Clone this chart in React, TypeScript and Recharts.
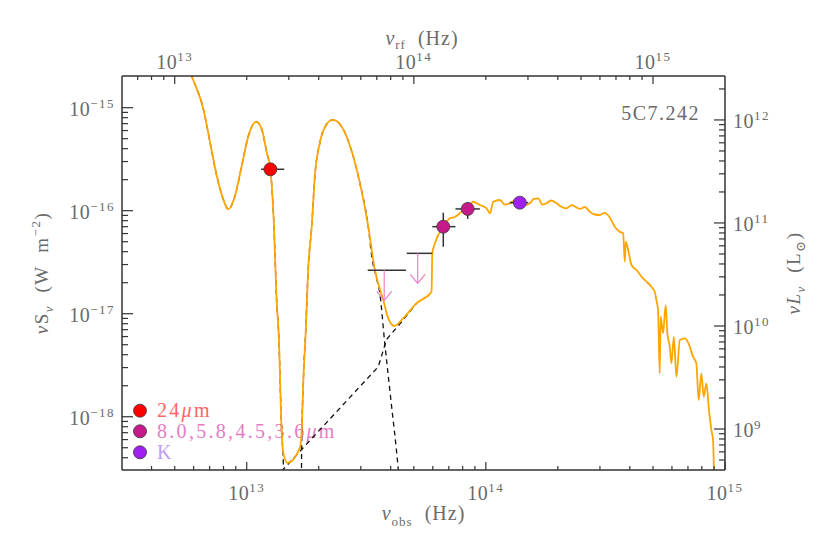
import React from "react";
import { ComposedChart, Line, Scatter, XAxis, YAxis, ErrorBar } from "recharts";

const SERIF = "'Liberation Serif', 'DejaVu Serif', serif";
const INK = "#6a6a6a";
const FRAME = "#333333";
const ORANGE = "#ffa500";
const PINK = "#ee7fc6";

// every value below is log10: nu_obs in Hz, nuS_nu in W m^-2
// total model (orange)
const modelLogNu = [
  12.742, 12.77, 12.819, 12.847, 12.875, 12.902, 12.923, 12.951, 12.979, 13.007,
  13.039, 13.063, 13.084, 13.099, 13.114, 13.125, 13.134, 13.146, 13.153, 13.171,
  13.223, 13.23, 13.237, 13.247, 13.257, 13.272, 13.285, 13.306, 13.334, 13.359,
  13.39, 13.432, 13.473, 13.508, 13.536, 13.571, 13.592, 13.617, 13.654, 13.71,
  13.773, 13.776, 13.787, 13.822, 13.85, 13.87, 13.891, 13.904, 13.924, 13.947,
  13.975, 14.003, 14.017, 14.031, 14.059, 14.079, 14.1, 14.121, 14.142, 14.163,
  14.184, 14.201, 14.219, 14.236, 14.254, 14.272, 14.296, 14.313, 14.337, 14.359,
  14.393, 14.414, 14.435, 14.455, 14.476, 14.497, 14.518, 14.539, 14.56, 14.574,
  14.581, 14.585, 14.595, 14.609, 14.63, 14.651, 14.672, 14.692, 14.706, 14.713,
  14.72, 14.727, 14.731, 14.741, 14.752, 14.759, 14.769, 14.776, 14.786, 14.797,
  14.811, 14.832, 14.853, 14.866, 14.88, 14.89, 14.901, 14.911, 14.922, 14.933,
  14.943, 14.95, 14.954,
];
const modelLogFlux = [
  -14.508, -14.692, -15.016, -15.34, -15.663, -15.889, -15.986, -15.857, -15.566, -15.275,
  -15.136, -15.21, -15.437, -15.598, -16.149, -16.867, -17.207, -18.129, -18.355, -18.447,
  -18.297, -18.129, -17.644, -17.158, -16.576, -16.149, -15.663, -15.34, -15.161, -15.119,
  -15.161, -15.372, -15.728, -16.149, -16.576, -16.867, -17.045, -17.119, -17.045, -16.899,
  -16.786, -16.414, -16.317, -16.155, -16.074, -16.061, -16.025, -15.998, -15.983, -15.913,
  -15.945, -15.977, -16.025, -15.913, -15.896, -15.94, -15.928, -15.901, -15.922, -15.945,
  -15.928, -15.886, -15.88, -15.94, -15.928, -15.901, -15.928, -15.959, -15.977, -15.945,
  -15.983, -15.964, -16.01, -16.037, -16.042, -16.022, -16.066, -16.155, -16.204, -16.219,
  -16.495, -16.301, -16.382, -16.527, -16.576, -16.641, -16.689, -16.738, -16.786, -16.867,
  -16.964, -17.579, -17.029, -17.19, -16.916, -17.19, -17.32, -17.482, -17.223, -17.612,
  -17.255, -17.239, -17.32, -17.417, -17.482, -17.838, -17.579, -17.806, -17.676, -17.935,
  -18.129, -18.226, -18.566,
];

// hot dust component (dashed)
const dustLogNu = [
  12.742, 12.77, 12.819, 12.847, 12.875, 12.902, 12.923, 12.951, 12.979, 13.007,
  13.039, 13.063, 13.084, 13.099, 13.114, 13.125, 13.134, 13.146, 13.152, 13.156,
  13.228, 13.23, 13.237, 13.247, 13.257, 13.272, 13.285, 13.306, 13.334, 13.359,
  13.39, 13.432, 13.473, 13.508, 13.524, 13.543, 13.557, 13.576, 13.603, 13.634, 13.641,
];
const dustLogFlux = [
  -14.508, -14.692, -15.016, -15.34, -15.663, -15.889, -15.986, -15.857, -15.566, -15.275,
  -15.136, -15.21, -15.437, -15.598, -16.149, -16.867, -17.207, -18.129, -18.372, -18.615,
  -18.712, -18.275, -17.644, -17.158, -16.576, -16.149, -15.663, -15.34, -15.161, -15.119,
  -15.161, -15.372, -15.728, -16.149, -16.462, -16.656, -16.809, -17.255, -17.838, -18.518, -18.712,
];

// stellar component (dashed)
const starLogNu = [13.139, 13.15, 13.348, 13.55, 13.585, 13.648, 13.71];
const starLogFlux = [-18.615, -18.518, -18.021, -17.515, -17.249, -17.078, -16.899];

// photometry
const mipsLogNu = [13.099];
const mipsLogFlux = [-15.598];
const mipsNuLo = [13.06];
const mipsNuHi = [13.157];

const iracLogNu = [13.822, 13.924];
const iracLogFlux = [-16.155, -15.983];
const iracNuLo = [13.776, 13.873];
const iracNuHi = [13.873, 13.975];
const iracFluxLo = [-16.35, -16.08];
const iracFluxHi = [-16.019, -15.918];

const kLogNu = [14.142];
const kLogFlux = [-15.922];
const kNuLo = [14.1];
const kNuHi = [14.177];

// 8.0 and 5.8 micron upper limits
const limLogNu = [13.575, 13.715];
const limLogFlux = [-16.579, -16.414];
const limNuLo = [13.506, 13.669];
const limNuHi = [13.666, 13.776];

const obsDomain = [3.01e12, 1e15];
const restDomain = [6.02e12, 2e15];
const fluxDomain = [3.04e-19, 2.03e-15];
const lumDomain = [4.0e8, 2.67e12];

const obsTicks = [
  4e12, 5e12, 6e12, 7e12, 8e12, 9e12, 1e13, 2e13, 3e13, 4e13, 5e13, 6e13, 7e13, 8e13, 9e13,
  1e14, 2e14, 3e14, 4e14, 5e14, 6e14, 7e14, 8e14, 9e14, 1e15,
];
const restTicks = [
  7e12, 8e12, 9e12, 1e13, 2e13, 3e13, 4e13, 5e13, 6e13, 7e13, 8e13, 9e13,
  1e14, 2e14, 3e14, 4e14, 5e14, 6e14, 7e14, 8e14, 9e14, 1e15,
];
const fluxTicks = [
  4e-19, 5e-19, 6e-19, 7e-19, 8e-19, 9e-19, 1e-18, 2e-18, 3e-18, 4e-18, 5e-18, 6e-18, 7e-18, 8e-18, 9e-18,
  1e-17, 2e-17, 3e-17, 4e-17, 5e-17, 6e-17, 7e-17, 8e-17, 9e-17,
  1e-16, 2e-16, 3e-16, 4e-16, 5e-16, 6e-16, 7e-16, 8e-16, 9e-16, 1e-15,
];
const lumTicks = [
  5e8, 6e8, 7e8, 8e8, 9e8, 1e9, 2e9, 3e9, 4e9, 5e9, 6e9, 7e9, 8e9, 9e9,
  1e10, 2e10, 3e10, 4e10, 5e10, 6e10, 7e10, 8e10, 9e10,
  1e11, 2e11, 3e11, 4e11, 5e11, 6e11, 7e11, 8e11, 9e11, 1e12, 2e12,
];

const curve = (lx: number[], ly: number[]) =>
  lx.map((v, i) => ({ x: 10 ** v, y: 10 ** ly[i] }));

const photometry = (
  lx: number[],
  ly: number[],
  xlo: number[],
  xhi: number[],
  ylo?: number[],
  yhi?: number[]
) =>
  lx.map((v, i) => {
    const x = 10 ** v;
    const y = 10 ** ly[i];
    return {
      x,
      y,
      ex: [x - 10 ** xlo[i], 10 ** xhi[i] - x],
      ey: ylo && yhi ? [y - 10 ** ylo[i], 10 ** yhi[i] - y] : [0, 0],
    };
  });

const modelData = curve(modelLogNu, modelLogFlux);
const dustData = curve(dustLogNu, dustLogFlux);
const starData = curve(starLogNu, starLogFlux);
const mipsData = photometry(mipsLogNu, mipsLogFlux, mipsNuLo, mipsNuHi);
const iracData = photometry(iracLogNu, iracLogFlux, iracNuLo, iracNuHi, iracFluxLo, iracFluxHi);
const kData = photometry(kLogNu, kLogFlux, kNuLo, kNuHi);
const limData = photometry(limLogNu, limLogFlux, limNuLo, limNuHi);

function LogTick(props: any) {
  const { x, y, payload, side } = props;
  const lg = Math.log10(payload.value);
  const e = Math.round(lg);
  const major = Math.abs(lg - e) < 1e-6;
  const vertical = side === "left" || side === "right";
  const len = vertical ? (major ? 11 : 6) : major ? 8 : 4;
  let x2 = x;
  let y2 = y;
  if (side === "left") x2 = x + len;
  if (side === "right") x2 = x - len;
  if (side === "bottom") y2 = y - len;
  if (side === "top") y2 = y + len;

  let label = null;
  if (major) {
    const exp = e < 0 ? `\u2212${-e}` : `${e}`;
    let tx = x;
    let ty = y;
    let anchor = "middle";
    if (side === "left") {
      tx = x - 7;
      ty = y + 8;
      anchor = "end";
    } else if (side === "right") {
      tx = x + 8;
      ty = y + 8;
      anchor = "start";
    } else if (side === "bottom") {
      ty = y + 30;
    } else {
      ty = y - 7;
    }
    label = (
      <text x={tx} y={ty} textAnchor={anchor} fill={INK} fontFamily={SERIF}>
        <tspan fontSize={20} letterSpacing={0.5}>10</tspan>
        <tspan fontSize={13} dy={-8} letterSpacing={1.5}>{exp}</tspan>
      </text>
    );
  }
  return (
    <g>
      <line x1={x} y1={y} x2={x2} y2={y2} stroke={FRAME} strokeWidth={1.2} />
      {label}
    </g>
  );
}

const dot = (fill: string) => (p: any) =>
  <circle cx={p.cx} cy={p.cy} r={6.5} fill={fill} stroke="#3a3a3a" strokeWidth={0.8} />;

const arrow = (p: any) => (
  <g stroke={PINK} strokeWidth={1.2} fill="none">
    <line x1={p.cx} y1={p.cy} x2={p.cx} y2={p.cy + 30} />
    <polyline points={`${p.cx - 7.5},${p.cy + 21} ${p.cx},${p.cy + 30} ${p.cx + 7.5},${p.cy + 21}`} />
  </g>
);

const axisLine = { stroke: FRAME, strokeWidth: 1.5 };

export default function App() {
  return (
    <div style={{ width: 822, height: 548, background: "#fff" }}>
      <style>{"body{margin:0}"}</style>
      <ComposedChart width={822} height={548} margin={{ top: 0, right: 0, bottom: 0, left: 0 }}>
        <XAxis
          xAxisId="obs"
          dataKey="x"
          type="number"
          scale="log"
          domain={obsDomain}
          allowDataOverflow
          ticks={obsTicks}
          interval={0}
          height={78}
          tickSize={0}
          tickMargin={0}
          tickLine={false}
          axisLine={axisLine}
          tick={(p: any) => <LogTick {...p} side="bottom" />}
        />
        <XAxis
          xAxisId="rest"
          dataKey="x"
          orientation="top"
          type="number"
          scale="log"
          domain={restDomain}
          allowDataOverflow
          ticks={restTicks}
          interval={0}
          height={76}
          tickSize={0}
          tickMargin={0}
          tickLine={false}
          axisLine={axisLine}
          tick={(p: any) => <LogTick {...p} side="top" />}
        />
        <YAxis
          yAxisId="flux"
          dataKey="y"
          type="number"
          scale="log"
          domain={fluxDomain}
          allowDataOverflow
          ticks={fluxTicks}
          interval={0}
          width={122}
          tickSize={0}
          tickMargin={0}
          tickLine={false}
          axisLine={axisLine}
          tick={(p: any) => <LogTick {...p} side="left" />}
        />
        <YAxis
          yAxisId="lum"
          orientation="right"
          type="number"
          scale="log"
          domain={lumDomain}
          allowDataOverflow
          ticks={lumTicks}
          interval={0}
          width={97}
          tickSize={0}
          tickMargin={0}
          tickLine={false}
          axisLine={axisLine}
          tick={(p: any) => <LogTick {...p} side="right" />}
        />

        <Line
          xAxisId="obs"
          yAxisId="flux"
          data={dustData}
          dataKey="y"
          type="monotone"
          stroke="#111"
          strokeWidth={1.3}
          strokeDasharray="5 4"
          dot={false}
          isAnimationActive={false}
        />
        <Line
          xAxisId="obs"
          yAxisId="flux"
          data={starData}
          dataKey="y"
          stroke="#111"
          strokeWidth={1.3}
          strokeDasharray="5 4"
          dot={false}
          isAnimationActive={false}
        />
        <Line
          xAxisId="obs"
          yAxisId="flux"
          data={modelData}
          dataKey="y"
          type="monotone"
          stroke={ORANGE}
          strokeWidth={1.8}
          dot={false}
          isAnimationActive={false}
        />

        <Scatter xAxisId="obs" yAxisId="flux" data={limData} shape={arrow} isAnimationActive={false}>
          <ErrorBar dataKey="ex" direction="x" width={0} stroke={FRAME} strokeWidth={1.5} />
        </Scatter>
        <Scatter xAxisId="obs" yAxisId="flux" data={mipsData} shape={dot("#ff0000")} isAnimationActive={false}>
          <ErrorBar dataKey="ex" direction="x" width={0} stroke={FRAME} strokeWidth={1.5} />
        </Scatter>
        <Scatter xAxisId="obs" yAxisId="flux" data={iracData} shape={dot("#c71a8a")} isAnimationActive={false}>
          <ErrorBar dataKey="ex" direction="x" width={0} stroke={FRAME} strokeWidth={1.5} />
          <ErrorBar dataKey="ey" direction="y" width={0} stroke={FRAME} strokeWidth={1.5} />
        </Scatter>
        <Scatter xAxisId="obs" yAxisId="flux" data={kData} shape={dot("#a020f0")} isAnimationActive={false}>
          <ErrorBar dataKey="ex" direction="x" width={0} stroke={FRAME} strokeWidth={1.5} />
        </Scatter>

        {/* axis titles */}
        <text x={423.5} y={520} textAnchor="middle" fill={INK} fontFamily={SERIF} fontSize={20} letterSpacing={1}>
          <tspan fontStyle="italic">ν</tspan>
          <tspan fontSize={13} dy={6}>obs</tspan>
          <tspan dy={-6}>{"\u00a0\u00a0(Hz)"}</tspan>
        </text>
        <text x={422} y={45} textAnchor="middle" fill={INK} fontFamily={SERIF} fontSize={20} letterSpacing={1}>
          <tspan fontStyle="italic">ν</tspan>
          <tspan fontSize={13} dy={4}>rf</tspan>
          <tspan dy={-4}>{"\u00a0\u00a0(Hz)"}</tspan>
        </text>
        <text
          x={48}
          y={273}
          transform="rotate(-90 48 273)"
          textAnchor="middle"
          fill={INK}
          fontFamily={SERIF}
          fontSize={19}
          letterSpacing={1.5}
        >
          <tspan fontStyle="italic">ν</tspan>
          <tspan>S</tspan>
          <tspan fontSize={13} dy={5} fontStyle="italic">ν</tspan>
          <tspan dy={-5}>{"\u00a0\u00a0(W\u00a0\u00a0m"}</tspan>
          <tspan fontSize={13} dy={-8}>{"\u22122"}</tspan>
          <tspan dy={8}>)</tspan>
        </text>
        <text
          x={800}
          y={273}
          transform="rotate(-90 800 273)"
          textAnchor="middle"
          fill={INK}
          fontFamily={SERIF}
          fontSize={19}
          letterSpacing={1.5}
        >
          <tspan fontStyle="italic">νL</tspan>
          <tspan fontSize={13} dy={5} fontStyle="italic">ν</tspan>
          <tspan dy={-5}>{"\u00a0\u00a0(L"}</tspan>
          <tspan fontSize={13} dy={5}>⊙</tspan>
          <tspan dy={-5}>)</tspan>
        </text>

        <text x={700} y={120} textAnchor="end" fill={INK} fontFamily={SERIF} fontSize={20} letterSpacing={1.5}>
          5C7.242
        </text>

        {/* legend */}
        <g fontFamily={SERIF} fontSize={20} letterSpacing={2.3}>
          <circle cx={140} cy={410.7} r={6.5} fill="#ff0000" stroke="#3a3a3a" strokeWidth={0.8} />
          <circle cx={140} cy={431.3} r={6.5} fill="#c71a8a" stroke="#3a3a3a" strokeWidth={0.8} />
          <circle cx={140} cy={452.3} r={6.5} fill="#a020f0" stroke="#3a3a3a" strokeWidth={0.8} />
          <text x={157} y={417} fill="#ff6464">
            24<tspan fontStyle="italic">μ</tspan>m
          </text>
          <text x={157} y={438} fill="#e57bc4">
            8.0,5.8,4.5,3.6<tspan fontStyle="italic">μ</tspan>m
          </text>
          <text x={157} y={459} fill="#c39bf3">
            K
          </text>
        </g>
      </ComposedChart>
    </div>
  );
}
